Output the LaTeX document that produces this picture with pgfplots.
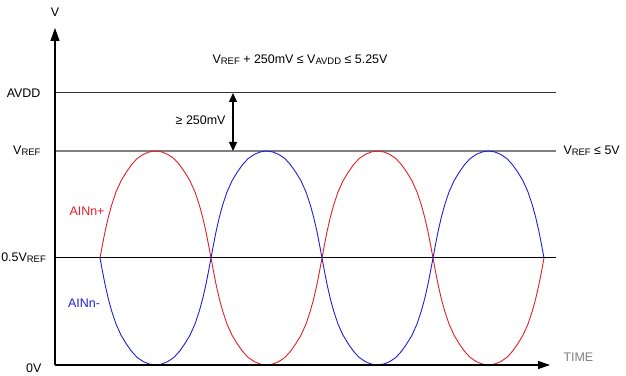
\documentclass[border=0pt]{standalone}
\usepackage{pgfplots}
\usepackage{pgfplotstable}
\pgfplotsset{compat=1.18}
\usepackage{fontspec}
\setmainfont{Liberation Sans}
\usetikzlibrary{arrows.meta}
\newcommand{\sub}[1]{\raisebox{-0.8pt}{\fontsize{9.5}{10}\selectfont #1}}
\definecolor{myred}{RGB}{225,30,35}
\definecolor{myblue}{RGB}{30,30,215}
\pgfplotstableread{
x red blue
100 107 107
102.5 120.4 93.6
105 133.2 80.8
108.3 147.7 66.3
111.7 160.1 53.9
116.1 173.3 40.7
121.1 184.3 29.7
126.1 192.6 21.4
131.6 200.4 13.6
137.2 206.5 7.5
143.3 210.6 3.4
149.4 213.1 0.9
155.5 214 0
161.6 213.1 0.9
167.7 210.6 3.4
173.8 206.5 7.5
179.4 200.4 13.6
184.9 192.6 21.4
189.9 184.3 29.7
194.9 173.3 40.7
199.3 160.1 53.9
202.7 147.7 66.3
206 133.2 80.8
208.5 120.4 93.6
211 107 107
213.5 93.6 120.4
216 80.8 133.2
219.3 66.3 147.7
222.7 53.9 160.1
227.1 40.7 173.3
232.1 29.7 184.3
237.1 21.4 192.6
242.6 13.6 200.4
248.2 7.5 206.5
254.3 3.4 210.6
260.4 0.9 213.1
266.5 0 214
272.6 0.9 213.1
278.7 3.4 210.6
284.8 7.5 206.5
290.4 13.6 200.4
295.9 21.4 192.6
300.9 29.7 184.3
305.9 40.7 173.3
310.3 53.9 160.1
313.7 66.3 147.7
317 80.8 133.2
319.5 93.6 120.4
322 107 107
324.5 120.4 93.6
327 133.2 80.8
330.3 147.7 66.3
333.7 160.1 53.9
338.1 173.3 40.7
343.1 184.3 29.7
348.1 192.6 21.4
353.6 200.4 13.6
359.2 206.5 7.5
365.3 210.6 3.4
371.4 213.1 0.9
377.5 214 0
383.6 213.1 0.9
389.7 210.6 3.4
395.8 206.5 7.5
401.4 200.4 13.6
406.9 192.6 21.4
411.9 184.3 29.7
416.9 173.3 40.7
421.3 160.1 53.9
424.7 147.7 66.3
428 133.2 80.8
430.5 120.4 93.6
433 107 107
435.5 93.6 120.4
438 80.8 133.2
441.3 66.3 147.7
444.7 53.9 160.1
449.1 40.7 173.3
454.1 29.7 184.3
459.1 21.4 192.6
464.6 13.6 200.4
470.2 7.5 206.5
476.3 3.4 210.6
482.4 0.9 213.1
488.5 0 214
494.6 0.9 213.1
500.7 3.4 210.6
506.8 7.5 206.5
512.4 13.6 200.4
517.9 21.4 192.6
522.9 29.7 184.3
527.9 40.7 173.3
532.3 53.9 160.1
535.7 66.3 147.7
539 80.8 133.2
541.5 93.6 120.4
544 107 107
}\waves
\begin{document}
\begin{tikzpicture}[font=\fontsize{12.5}{14}\selectfont]
\begin{axis}[scale only axis, width=626bp, height=376bp,
  xmin=0, xmax=626, ymin=-11, ymax=365, hide axis, clip=false]
\coordinate (ll) at (rel axis cs:0,0);
\coordinate (ur) at (rel axis cs:1,1);
% reference lines
\addplot[black!80, line width=1pt] coordinates {(55,272) (556,272)};
\addplot[gray, line width=1.6pt] coordinates {(55,214) (556,214)};
\addplot[black, line width=1pt] coordinates {(55,107) (556,107)};
% AINn+ and AINn-
\addplot[myred, line width=0.9pt] table[x=x, y=red] {\waves};
\addplot[myblue, line width=0.9pt] table[x=x, y=blue] {\waves};
% axes
\draw[line width=1.1pt, -{Triangle[length=13bp,width=9bp]}] (axis cs:55,0) -- (axis cs:55,337);
\draw[line width=1.1pt, -{Triangle[length=12bp,width=8bp]}] (axis cs:55,0) -- (axis cs:550,0);
% double arrow
\draw[line width=1.2pt, {Triangle[length=9bp,width=8bp]}-{Triangle[length=9bp,width=8bp]}] (axis cs:233,272) -- (axis cs:233,214);
% labels
\node at (axis cs:55,353) {V};
\node[anchor=east] at (axis cs:44,272) {AVDD};
\node[anchor=east] at (axis cs:44,214) {V\sub{REF}};
\node[anchor=east, inner xsep=0pt] at (axis cs:46,107) {0.5V\sub{REF}};
\node[anchor=east] at (axis cs:45,-3) {0V};
\node[myred] at (axis cs:87,154) {AINn+};
\node[myblue] at (axis cs:84,62) {AINn-};
\node at (axis cs:300,305) {V\sub{REF} + 250mV ≤ V\sub{AVDD} ≤ 5.25V};
\node[anchor=east] at (axis cs:229,245) {≥ 250mV};
\node[anchor=west] at (axis cs:560,214) {V\sub{REF} ≤ 5V};
\node[anchor=west, gray] at (axis cs:560,8) {TIME};
\end{axis}
\pgfresetboundingbox
\path (ll) rectangle (ur);
\end{tikzpicture}
\end{document}
